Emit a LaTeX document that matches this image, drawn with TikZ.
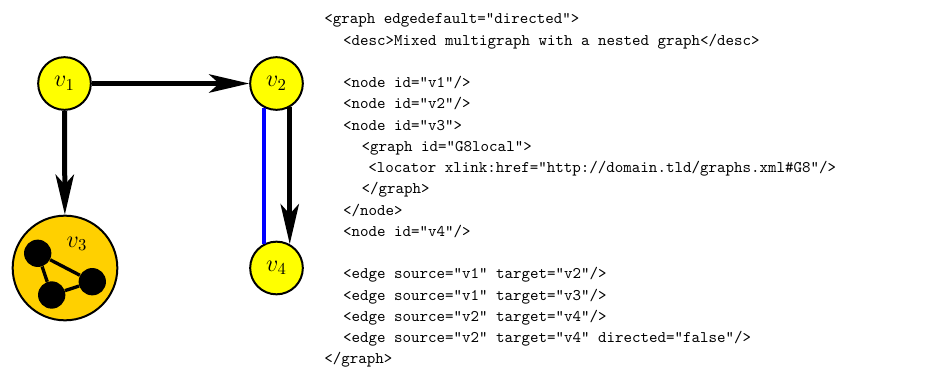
\documentclass[tikz,border=0pt]{standalone}
\usetikzlibrary{arrows.meta}
\definecolor{nodeyellow}{RGB}{255,255,0}
\definecolor{nestgold}{RGB}{255,208,0}
\newcommand\xind[1]{\hspace*{#1pt}}
\begin{document}
\begin{tikzpicture}[x=0.6pt,y=-0.6pt,
  vtx/.style={circle,draw=black,line width=1.2pt,fill=nodeyellow,inner sep=0pt,minimum size=31.6pt,font=\Large},
  nest/.style={circle,draw=black,line width=1.2pt,fill=nestgold,inner sep=0pt,minimum size=62.8pt},
  dot/.style={circle,fill=black,inner sep=0pt,minimum size=16.4pt},
  inedge/.style={line width=2pt},
  arc/.style={line width=3pt,-{Stealth[length=24pt,width=11pt,inset=6pt]}},
  undir/.style={line width=2.4pt,draw=blue},
  code/.style={inner sep=0pt,align=left,font=\fontsize{9.72}{12.75}\selectfont\ttfamily}]
\useasboundingbox (0,0) rectangle (927,367);
% graph nodes
\node[vtx] (v1) at (64.5,83.5) {$v_1$};
\node[vtx] (v2) at (276.5,83.5) {$v_2$};
\node[vtx] (v4) at (276.5,268) {$v_4$};
\node[nest] (v3) at (65,268) {};
\node[font=\Large] (v3lab) at (77,244) {$v_3$};
% nested graph
\node[dot] (na) at (37.7,253.3) {};
\node[dot] (nb) at (92.3,281.7) {};
\node[dot] (nc) at (51.7,295) {};
\draw[inedge] (na) -- (nb) (na) -- (nc) (nc) -- (nb);
% edges
\draw[arc] (v1) -- (v2);
\draw[arc] (v1) -- (v3);
\draw[arc] (v2.-61.2) -- (v4.61.2);
\draw[undir] (v2.-118.8) -- (v4.118.8);
% xml listing
\node[code,anchor=north west] (xml) at (324,13.5) {%
<graph edgedefault="directed">\\
\xind{11.2}<desc>Mixed multigraph with a nested graph</desc>\\
\mbox{}\\
\xind{11.2}<node id="v1"/>\\
\xind{11.2}<node id="v2"/>\\
\xind{11.2}<node id="v3">\\
\xind{22.4}<graph id="G8local">\\
\xind{26.4}<locator xlink:href="http://domain.tld/graphs.xml\#G8"/>\\
\xind{22.4}</graph>\\
\xind{11.2}</node>\\
\xind{11.2}<node id="v4"/>\\
\mbox{}\\
\xind{11.2}<edge source="v1" target="v2"/>\\
\xind{11.2}<edge source="v1" target="v3"/>\\
\xind{11.2}<edge source="v2" target="v4"/>\\
\xind{11.2}<edge source="v2" target="v4" directed="false"/>\\
</graph>};
\end{tikzpicture}
\end{document}
